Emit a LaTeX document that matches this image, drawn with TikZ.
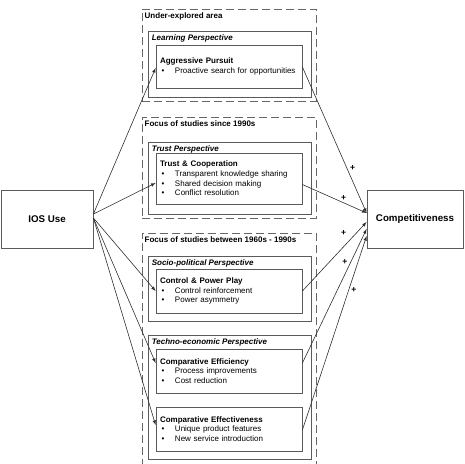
\documentclass[tikz,border=0pt]{standalone}
\usepackage{fontspec}
\setmainfont{Liberation Sans}
\usepackage{xcolor}
\usepackage{tikz}
\usetikzlibrary{arrows,positioning,calc}
\definecolor{boxline}{HTML}{5A5A5A}
\definecolor{arrline}{HTML}{2E2E2E}
\newcommand{\bul}[1]{\makebox[15pt][l]{\hspace{1.5pt}\textbullet}#1}

\begin{document}
\begin{tikzpicture}[x=1pt, y=-1pt, >=latex,
    area/.style={draw=black!60, line width=1pt, dash pattern=on 8pt off 4pt, minimum width=174pt, inner sep=0pt},
    persp/.style={draw=boxline, line width=0.8pt, minimum width=163pt, inner sep=0pt},
    theme/.style={draw=boxline, line width=0.8pt, text width=138pt, inner xsep=4pt, inner ysep=0pt, align=left, font=\fontsize{8}{9.7}\selectfont},
    endbox/.style={draw=boxline, line width=0.8pt, minimum height=58pt, font=\fontsize{9.75}{11}\selectfont\bfseries},
    areatitle/.style={inner sep=0pt, font=\fontsize{8}{9.7}\selectfont\bfseries},
    persptitle/.style={inner sep=0pt, font=\fontsize{8}{9.7}\selectfont\bfseries\itshape},
    link/.style={->, draw=arrline, line width=0.6pt},
    sign/.style={inner sep=0pt, font=\fontsize{8.5}{9}\selectfont\bfseries}]
    \useasboundingbox (0,0) rectangle (465,463);
    \clip (0,0) rectangle (465,463);

    % Ends
    \node[endbox, minimum width=92pt] (ios) at (47,219) {IOS Use};
    \node[endbox, minimum width=96pt] (comp) at (415,219) {Competitiveness};

    % Areas of study
    \node[area, minimum height=92pt] (g1) at (229,55) {};
    \node[areatitle, below right=4pt and 3pt of g1.north west] (g1t) {Under-explored area};
    \node[area, minimum height=101pt] (g2) at (229,167.5) {};
    \node[areatitle, below right=4pt and 3pt of g2.north west] (g2t) {Focus of studies since 1990s};
    \node[area, minimum height=242pt] (g3) at (229,354) {};
    \node[areatitle, below right=4pt and 3pt of g3.north west] (g3t) {Focus of studies between 1960s - 1990s};

    % Perspectives
    \node[persp, minimum height=66pt] (learn) at (229.5,64) {};
    \node[persptitle, below right=3.5pt and 4pt of learn.north west] (learnt) {Learning Perspective};
    \node[persp, minimum height=72pt] (trustp) at (229.5,178) {};
    \node[persptitle, below right=3.5pt and 4pt of trustp.north west] (trustpt) {Trust Perspective};
    \node[persp, minimum height=65pt] (socio) at (229.5,288.5) {};
    \node[persptitle, below right=3.5pt and 4pt of socio.north west] (sociot) {Socio-political Perspective};
    \node[persp, minimum height=124pt] (techno) at (229.5,397) {};
    \node[persptitle, below right=3.5pt and 4pt of techno.north west] (technot) {Techno-economic Perspective};

    % Themes
    \node[theme, minimum height=43pt] (agg) at (229,66.5) {\textbf{Aggressive Pursuit}\\ \bul{Proactive search for opportunities}};
    \node[theme, minimum height=51pt] (trustc) at (229,178.5) {\textbf{Trust \& Cooperation}\\ \bul{Transparent knowledge sharing}\\ \bul{Shared decision making}\\ \bul{Conflict resolution}};
    \node[theme, minimum height=44pt] (ctrl) at (229,291) {\textbf{Control \& Power Play}\\ \bul{Control reinforcement}\\ \bul{Power asymmetry}};
    \node[theme, minimum height=44pt] (effic) at (229,371) {\textbf{Comparative Efficiency}\\ \bul{Process improvements}\\ \bul{Cost reduction}};
    \node[theme, minimum height=44pt] (effect) at (229,429) {\textbf{Comparative Effectiveness}\\ \bul{Unique product features}\\ \bul{New service introduction}};

    % IOS use to themes
    \draw[link] ([yshift=5pt]ios.east) -- ([yshift=-1.5pt]agg.west);
    \draw[link] ([yshift=5pt]ios.east) -- ([yshift=-4.5pt]trustc.west);
    \draw[link] ([yshift=1pt]ios.east) -- (ctrl.west);
    \draw[link] ([yshift=1pt]ios.east) -- ([yshift=8pt]effic.west);
    \draw[link] ([yshift=1pt]ios.east) -- ([yshift=4pt]effect.west);

    % Themes to competitiveness
    \draw[link] ([yshift=-0.5pt]agg.east) -- node[sign, pos=0.69, right=3pt] (s1) {+} ([yshift=6pt]comp.west);
    \draw[link] ([yshift=-6pt]trustc.east) -- node[sign, pos=0.64, above=2pt] (s2) {+} ([yshift=6pt]comp.west);
    \draw[link] (ctrl.east) -- node[sign, pos=0.64, yshift=14pt] (s3) {+} ([yshift=-3pt]comp.west);
    \draw[link] ([yshift=8pt]effic.east) -- node[sign, pos=0.75, left=3pt] (s4) {+} ([yshift=-10pt]comp.west);
    \draw[link] ([yshift=-1pt]effect.east) -- node[sign, pos=0.72, right=2.5pt] (s5) {+} ([yshift=-17pt]comp.west);
\end{tikzpicture}
\end{document}
